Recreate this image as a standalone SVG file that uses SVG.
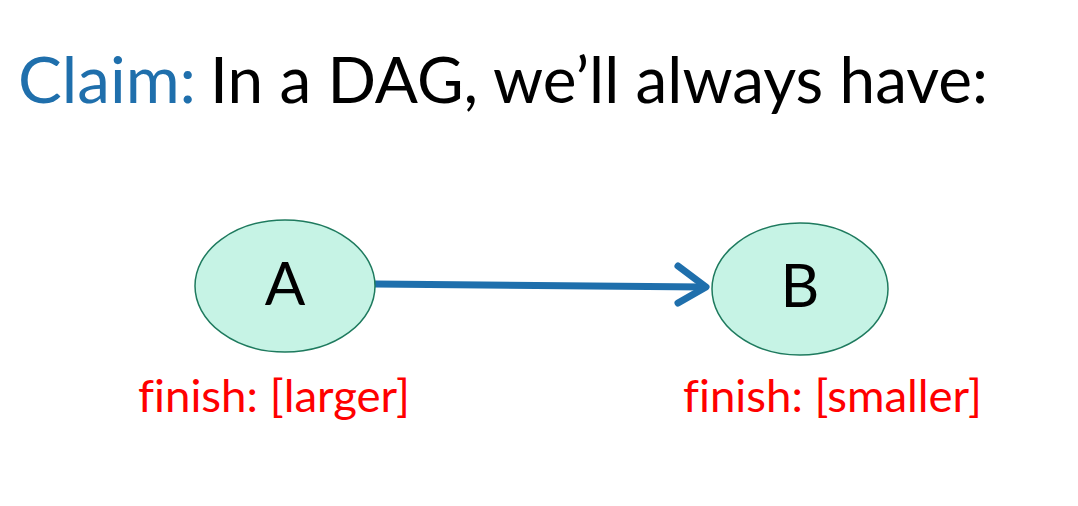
<svg xmlns="http://www.w3.org/2000/svg" width="1078" height="506" viewBox="0 0 1078 506">
  <style>
    text { font-variant-ligatures: none; font-feature-settings: "liga" 0; }
    .title { font-family: Lato, "Open Sans", sans-serif; font-size: 64px; }
    .node { fill: #c6f3e5; stroke: #1e7a5e; stroke-width: 1.5; }
    .nlabel { font-family: Lato, "Open Sans", sans-serif; font-size: 60px; fill: #000; text-anchor: middle; }
    .finish { font-family: Lato, "Open Sans", sans-serif; font-size: 45px; fill: #ff0000; }
    .edge { stroke: #1f6fac; stroke-width: 7; fill: none; stroke-linecap: round; stroke-linejoin: round; }
  </style>
  <rect width="1078" height="506" fill="#ffffff"/>

  <text class="title" x="18" y="103"><tspan fill="#1f6fac" textLength="178" lengthAdjust="spacingAndGlyphs">Claim:</tspan><tspan fill="#000" x="210" textLength="778" lengthAdjust="spacingAndGlyphs">In a DAG, we’ll always have:</tspan></text>

  <g id="connectors">
    <line class="edge" x1="375" y1="284" x2="704" y2="287"/>
    <polyline class="edge" points="678,266 706,287 678,303"/>
  </g>

  <g id="node-A">
    <ellipse class="node" cx="285" cy="286" rx="90" ry="66"/>
    <text class="nlabel" x="285" y="305">A</text>
  </g>

  <g id="node-B">
    <ellipse class="node" cx="800" cy="289" rx="88" ry="66"/>
    <text class="nlabel" x="800" y="307">B</text>
  </g>

  <text class="finish" x="138" y="412" textLength="272" lengthAdjust="spacingAndGlyphs">finish: [larger]</text>
  <text class="finish" x="683" y="412" textLength="299" lengthAdjust="spacingAndGlyphs">finish: [smaller]</text>
</svg>
